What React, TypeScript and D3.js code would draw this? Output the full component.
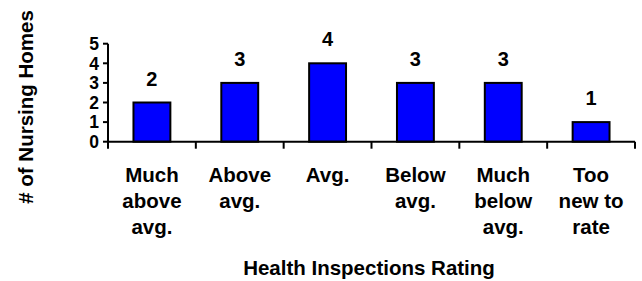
import React from "react";
import * as d3 from "d3";

const categories = ["Much above avg.", "Above avg.", "Avg.", "Below avg.", "Much below avg.", "Too new to rate"];
const categoryLines = [["Much", "above", "avg."], ["Above", "avg."], ["Avg."], ["Below", "avg."], ["Much", "below", "avg."], ["Too", "new to", "rate"]];
const values = [2, 3, 4, 3, 3, 1];
const yTicks = [0, 1, 2, 3, 4, 5];
const xTitle = "Health Inspections Rating";
const yTitle = "# of Nursing Homes";

const W = 642;
const H = 281;
const FONT = "'Liberation Sans', Arial, Helvetica, sans-serif";

export default function App() {
  const x = d3.scaleBand<string>().domain(categories).range([108, 635]).padding(0);
  const y = d3.scaleLinear().domain([0, 5]).range([141.7, 43.7]);
  const step = x.step();
  const barW = step * 0.42;
  const y0 = y(0);
  const boundaries = categories.map((c) => x(c) as number).concat([x.range()[1]]);

  return (
    <svg width={W} height={H} style={{ position: "absolute", left: 0, top: 0, background: "#fff" }} fontFamily={FONT} fontWeight="bold">
      {/* bars */}
      {categories.map((c, i) => {
        const cx = (x(c) as number) + step / 2;
        return (
          <g key={c}>
            <rect x={cx - barW / 2} y={y(values[i])} width={barW} height={y0 - y(values[i])} fill="#0000FF" stroke="#000" strokeWidth={2} />
            <text x={cx} y={y(values[i]) - 17} textAnchor="middle" fontSize={20} fill="#000">{values[i]}</text>
          </g>
        );
      })}
      {/* y axis */}
      <line x1={108} x2={108} y1={y(5)} y2={y0} stroke="#000" strokeWidth={2} />
      {yTicks.map((t) => (
        <g key={t}>
          <line x1={103} x2={108} y1={y(t)} y2={y(t)} stroke="#000" strokeWidth={2} />
          <text x={99} y={y(t)} dy="0.36em" textAnchor="end" fontSize={17.5} fill="#000">{t}</text>
        </g>
      ))}
      {/* x axis */}
      <line x1={107} x2={x.range()[1]} y1={y0} y2={y0} stroke="#000" strokeWidth={2} />
      {boundaries.map((b, i) => (
        <line key={i} x1={b} x2={b} y1={y0} y2={y0 + 7} stroke="#000" strokeWidth={2} />
      ))}
      {/* category labels */}
      {categories.map((c, i) => {
        const cx = (x(c) as number) + step / 2;
        return (
          <text key={c} x={cx} y={182} textAnchor="middle" fontSize={20.5} fill="#000">
            {categoryLines[i].map((ln, j) => (
              <tspan key={j} x={cx} dy={j === 0 ? 0 : 26}>{ln}</tspan>
            ))}
          </text>
        );
      })}
      {/* titles */}
      <text x={369} y={275} textAnchor="middle" fontSize={20.5} fill="#000">{xTitle}</text>
      <text transform={`translate(33,107) rotate(-90)`} textAnchor="middle" fontSize={20.5} fill="#000">{yTitle}</text>
    </svg>
  );
}
